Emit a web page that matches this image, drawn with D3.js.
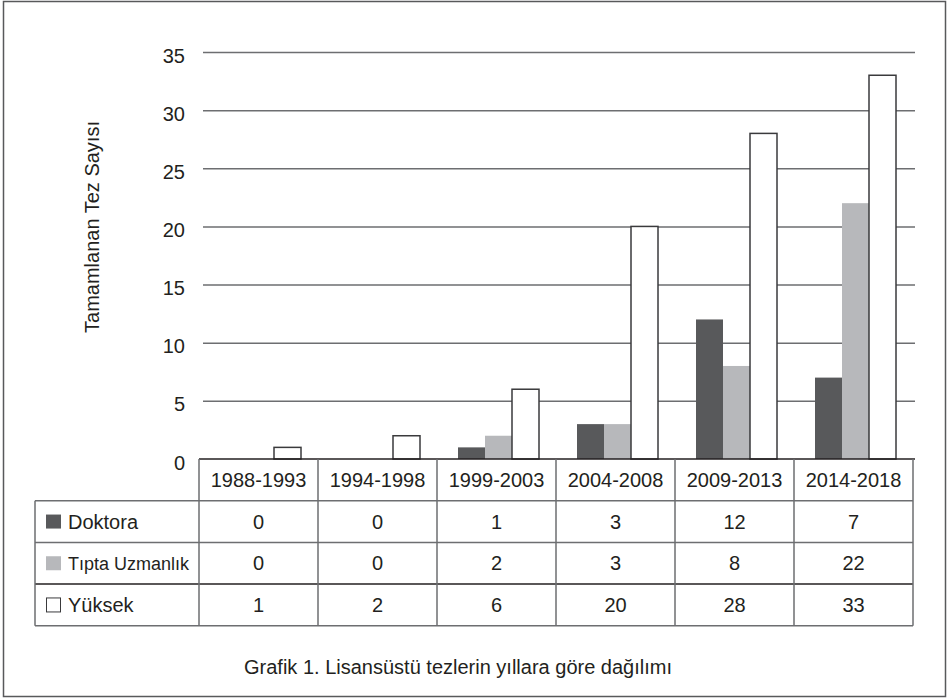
<!DOCTYPE html>
<html>
<head>
<meta charset="utf-8">
<script src="https://cdn.jsdelivr.net/npm/d3@7"></script>
<style>
  body { margin: 0; background: #fff; }
  svg text { font-family: "Liberation Sans", Arial, Helvetica, sans-serif; fill: #231f20; }
</style>
</head>
<body>
<div id="chart"></div>
<script>
// data
var periods = ['1988-1993', '1994-1998', '1999-2003', '2004-2008', '2009-2013', '2014-2018'];
var seriesNames = ['Doktora', 'Tıpta Uzmanlık', 'Yüksek'];
var doktora = [0, 0, 1, 3, 12, 7];
var tiptaUzmanlik = [0, 0, 2, 3, 8, 22];
var yuksek = [1, 2, 6, 20, 28, 33];
var yTicks = [0, 5, 10, 15, 20, 25, 30, 35];

var values = [doktora, tiptaUzmanlik, yuksek];
var fills = ['#58595b', '#b7b8bb', '#ffffff'];

var width = 950,
    height = 700;

var svg = d3.select('#chart')
    .append('svg')
    .attr('width', width)
    .attr('height', height);

// outer frame
svg.append('rect')
    .attr('x', 3.5).attr('y', 1.5)
    .attr('width', 942).attr('height', 695)
    .attr('fill', 'none')
    .attr('stroke', '#58595b')
    .attr('stroke-width', 1.5);

var y = d3.scaleLinear().domain([0, 35]).range([459, 52]);

var x = d3.scaleBand().domain(periods).range([199, 913]).padding(0);

var xs = d3.scaleBand().domain(seriesNames).range([21, 102]).padding(0);

// y axis with gridlines
var yAxis = d3.axisLeft(y)
    .tickValues(yTicks)
    .tickSize(-712)
    .tickPadding(18);

var gAxis = svg.append('g')
    .attr('transform', 'translate(203,0)')
    .call(yAxis);

gAxis.select('.domain').remove();
gAxis.selectAll('.tick line')
    .attr('stroke', '#6d6e71')
    .attr('stroke-width', 1.5)
    .filter(function (d) { return d === 0; })
    .remove();
gAxis.selectAll('.tick text')
    .attr('font-size', 20)
    .attr('fill', '#231f20')
    .attr('dy', '0.5em')
    .style('font-family', '"Liberation Sans", Arial, Helvetica, sans-serif');

// y title
svg.append('text')
    .attr('transform', 'translate(99,227) rotate(-90)')
    .attr('text-anchor', 'middle')
    .attr('font-size', 20)
    .text('Tamamlanan Tez Sayısı');

// bars
var groups = svg.append('g')
    .selectAll('g')
    .data(periods)
    .enter()
    .append('g')
    .attr('transform', function (d) { return 'translate(' + x(d) + ',0)'; });

groups.selectAll('rect')
    .data(function (d, i) {
        return seriesNames.map(function (s, j) {
            return { series: s, idx: j, value: values[j][i] };
        });
    })
    .enter()
    .append('rect')
    .filter(function (d) { return d.value > 0; })
    .attr('x', function (d) { return xs(d.series); })
    .attr('width', xs.bandwidth())
    .attr('y', function (d) { return y(d.value); })
    .attr('height', function (d) { return y(0) - y(d.value); })
    .attr('fill', function (d) { return fills[d.idx]; })
    .attr('stroke', function (d) { return d.idx === 2 ? '#3a3a3c' : 'none'; })
    .attr('stroke-width', 1.5);

// data table
var rowTop = 459,
    rowH = 41.7,
    tableLeft = 35;
var tbl = svg.append('g');

// horizontal lines
tbl.append('line')
    .attr('x1', 199).attr('x2', 915)
    .attr('y1', rowTop).attr('y2', rowTop)
    .attr('stroke', '#231f20').attr('stroke-width', 1.5);

for (var r = 1; r <= 4; r++) {
    tbl.append('line')
        .attr('x1', tableLeft).attr('x2', 913)
        .attr('y1', rowTop + r * rowH).attr('y2', rowTop + r * rowH)
        .attr('stroke', r === 3 ? '#231f20' : '#6d6e71')
        .attr('stroke-width', 1.5);
}

// vertical lines
var colEdges = periods.map(function (p) { return x(p); }).concat([x.range()[1]]);
tbl.selectAll('line.v')
    .data(colEdges)
    .enter()
    .append('line')
    .attr('class', 'v')
    .attr('x1', function (d) { return d; })
    .attr('x2', function (d) { return d; })
    .attr('y1', rowTop)
    .attr('y2', rowTop + 4 * rowH)
    .attr('stroke', '#6d6e71')
    .attr('stroke-width', 1.5);

tbl.append('line')
    .attr('x1', tableLeft).attr('x2', tableLeft)
    .attr('y1', rowTop + rowH).attr('y2', rowTop + 4 * rowH)
    .attr('stroke', '#6d6e71').attr('stroke-width', 1.5);

// header labels
tbl.selectAll('text.cat')
    .data(periods)
    .enter()
    .append('text')
    .attr('class', 'cat')
    .attr('x', function (d) { return x(d) + x.bandwidth() / 2; })
    .attr('y', rowTop + rowH / 2 + 7)
    .attr('text-anchor', 'middle')
    .attr('font-size', 20)
    .text(function (d) { return d; });

// series rows
seriesNames.forEach(function (s, j) {
    var cy = rowTop + (j + 1) * rowH + rowH / 2;

    tbl.append('rect')
        .attr('x', j === 2 ? 46.5 : 46)
        .attr('y', cy - 7)
        .attr('width', j === 2 ? 14 : 15)
        .attr('height', 14)
        .attr('fill', fills[j])
        .attr('stroke', j === 2 ? '#3a3a3c' : 'none')
        .attr('stroke-width', 1);

    tbl.append('text')
        .attr('x', 68)
        .attr('y', cy + 7)
        .attr('font-size', j === 1 ? 18 : 20)
        .text(s);

    tbl.selectAll('text.v' + j)
        .data(values[j])
        .enter()
        .append('text')
        .attr('class', 'v' + j)
        .attr('x', function (d, i) { return x(periods[i]) + x.bandwidth() / 2; })
        .attr('y', cy + 7)
        .attr('text-anchor', 'middle')
        .attr('font-size', 20)
        .text(function (d) { return d; });
});

// caption
svg.append('text')
    .attr('x', 458)
    .attr('y', 674)
    .attr('text-anchor', 'middle')
    .attr('font-size', 20)
    .text('Grafik 1. Lisansüstü tezlerin yıllara göre dağılımı');
</script>
</body>
</html>
